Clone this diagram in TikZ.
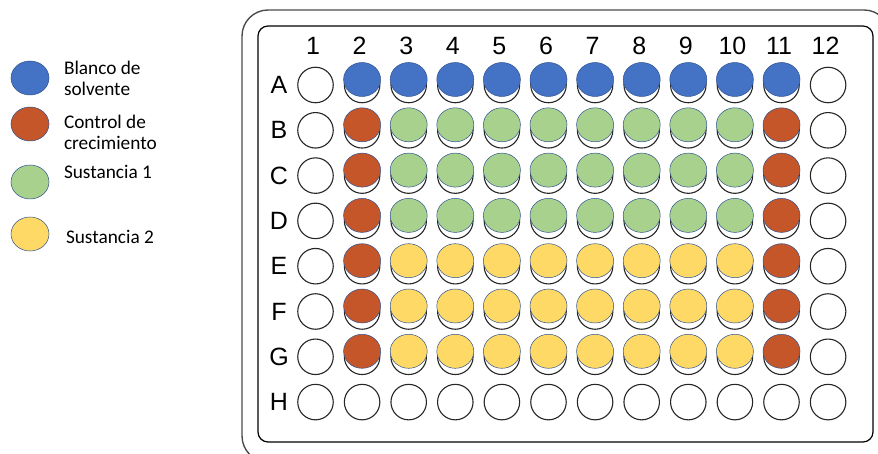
\documentclass[tikz,border=0pt]{standalone}
\usepackage{fontspec}
\setmainfont{Liberation Sans}
\newfontfamily\legendfont{Carlito}
\usetikzlibrary{shapes.geometric}
\usetikzlibrary{positioning}
\definecolor{solventblue}{HTML}{4472C4}
\definecolor{growthred}{HTML}{C5562A}
\definecolor{subsgreen}{HTML}{A9D18E}
\definecolor{subsyellow}{HTML}{FFD966}
\definecolor{wellrim}{HTML}{2F528F}

\begin{document}
\begin{tikzpicture}[
  x=1pt, y=-1pt,
  every node/.style={inner sep=0pt, outer sep=0pt},
  well/.style={circle, draw=black!85, line width=1.1pt, minimum size=35.5pt},
  dose/.style={ellipse, draw=wellrim, line width=0.5pt, minimum width=37pt, minimum height=34pt, fill=#1},
  platelabel/.style={font=\fontsize{25}{25}\selectfont},
  legendtext/.style={anchor=west, align=left, font=\legendfont\fontsize{19.3}{21}\selectfont},
]
\useasboundingbox (0,0) rectangle (878,454);

% plate
\draw[black!70, line width=1.4pt, rounded corners=26pt] (242,10) rectangle (890,462);
\draw[black, line width=1.2pt, rounded corners=10pt] (258,26) rectangle (873,442);

% labels and empty wells
\foreach \c in {1,...,12}
  \node[platelabel] (col\c) at ({313+46.6*(\c-1)}, 46) {\c};
\foreach \r [count=\i] in {A,B,C,D,E,F,G,H} {
  \node[platelabel] (row\r) at (279, {85+45.3*(\i-1)}) {\r};
  \foreach \c in {1,...,12}
    \node[well] (\r\c) at ({315.5+46.6*(\c-1)}, {85+45.3*(\i-1)}) {};
}

% filled wells
\foreach \c in {2,...,11}
  \node[dose=solventblue, yshift=5.5pt] (A\c-f) at (A\c) {};
\foreach \r in {B,C,D,E,F,G} {
  \node[dose=growthred, yshift=5.5pt] (\r2-f) at (\r2) {};
  \node[dose=growthred, yshift=5.5pt] (\r11-f) at (\r11) {};
}
\foreach \r in {B,C,D}
  \foreach \c in {3,...,10}
    \node[dose=subsgreen, yshift=5.5pt] (\r\c-f) at (\r\c) {};
\foreach \r in {E,F,G}
  \foreach \c in {3,...,10}
    \node[dose=subsyellow, yshift=5.5pt] (\r\c-f) at (\r\c) {};

% legend
\node[dose=solventblue, minimum width=38pt] (keyblue) at (30,78) {};
\node[dose=growthred, minimum width=38pt] (keyred) at (30,124) {};
\node[dose=subsgreen, minimum width=38pt] (keygreen) at (30,182) {};
\node[dose=subsyellow, minimum width=38pt] (keyyellow) at (30,234) {};
\node[legendtext] (txtblue) at (64,78) {Blanco de\\solvente};
\node[legendtext] (txtred) at (64,132) {Control de\\crecimiento};
\node[legendtext] (txtgreen) at (64,172) {Sustancia 1};
\node[legendtext] (txtyellow) at (66,237) {Sustancia 2};
\end{tikzpicture}
\end{document}
